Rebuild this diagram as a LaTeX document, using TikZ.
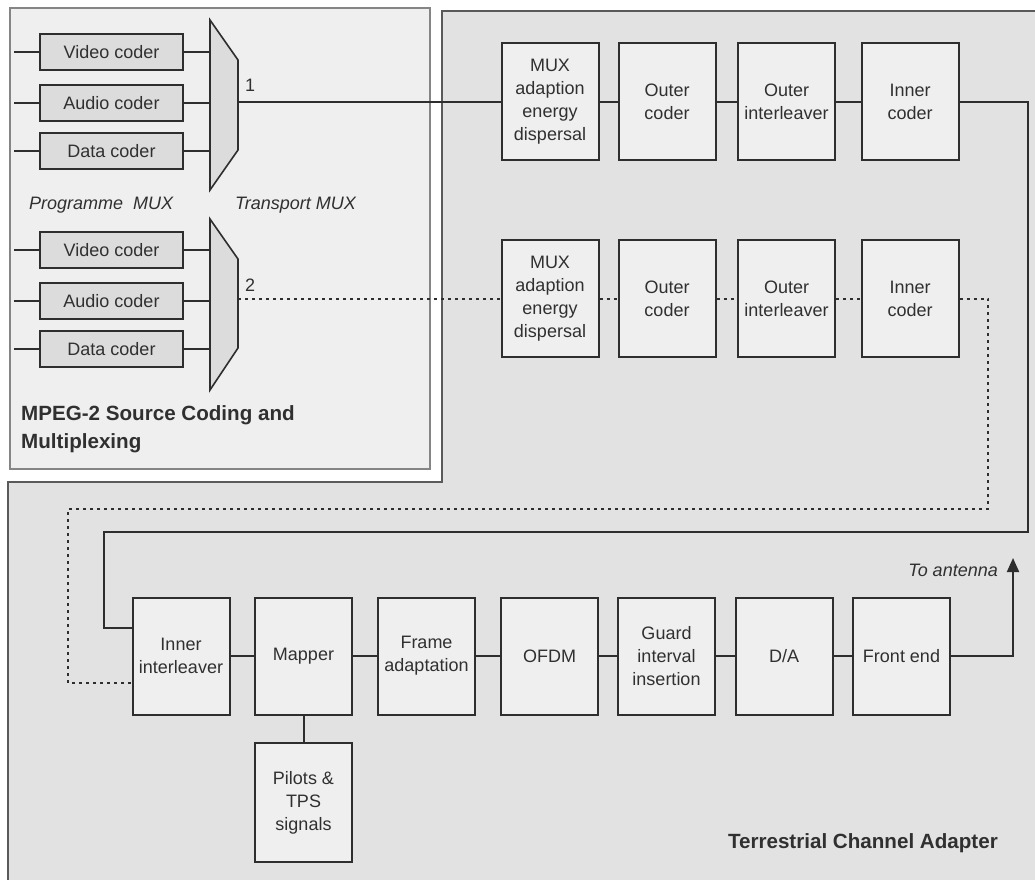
\documentclass[tikz,border=0pt]{standalone}
\usepackage{fontspec}
\setmainfont{Liberation Sans}
\usetikzlibrary{arrows.meta}
\definecolor{linec}{HTML}{2E2E2E}
\definecolor{txt}{HTML}{303030}
\definecolor{boxfill}{HTML}{EFEFEF}
\definecolor{coderfill}{HTML}{DCDCDC}
\definecolor{regionfill}{HTML}{E2E2E2}
\definecolor{srcfill}{HTML}{EFEFEF}
\definecolor{srcline}{HTML}{858585}
\definecolor{regline}{HTML}{5A5A5A}
\begin{document}
\begin{tikzpicture}[x=1pt,y=-1pt,
  blk/.style={draw=linec, fill=boxfill, line width=2pt, minimum width=97pt,
    minimum height=117pt, inner sep=0pt, align=center, text=txt,
    font=\fontsize{18}{23}\selectfont},
  coder/.style={draw=linec, fill=coderfill, line width=2pt, minimum width=143pt,
    minimum height=36pt, inner sep=0pt, text=txt, font=\fontsize{18}{22}\selectfont},
  mux/.style={draw=linec, fill=coderfill, line width=1.6pt, line join=miter},
  wire/.style={draw=linec, line width=2pt},
  dotwire/.style={wire, dash pattern=on 3pt off 4pt},
  lbl/.style={inner sep=0pt, text=txt, font=\fontsize{18}{22}\selectfont},
  ilbl/.style={lbl, font=\fontsize{18}{22}\selectfont\itshape},
  title/.style={inner sep=0pt, text=txt, align=left, font=\fontsize{20.6}{28}\selectfont\bfseries}
]
% canvas
\fill[white] (0,0) rectangle (1035,879);
\useasboundingbox (0,0) rectangle (1035,879);

% terrestrial channel adapter region
\fill[regionfill] (442,11) -- (1036,11) -- (1036,880) -- (8,880) -- (8,482) -- (442,482) -- cycle;
\draw[regline, line width=2.5pt] (1036,11) -- (442,11) -- (442,482) -- (8,482) -- (8,880);

% source coding region
\draw[srcline, fill=srcfill, line width=2.5pt] (10,8) rectangle (430,469);

% programme coders
\node[coder] (v1) at (111.5,52)  {Video coder};
\node[coder] (a1) at (111.5,103) {Audio coder};
\node[coder] (d1) at (111.5,151) {Data coder};
\node[coder] (v2) at (111.5,250) {Video coder};
\node[coder] (a2) at (111.5,301) {Audio coder};
\node[coder] (d2) at (111.5,349) {Data coder};

% transport multiplexers
\draw[mux] (210,20) -- (238,60) -- (238,150) -- (210,190) -- cycle;
\draw[mux] (210,219) -- (238,259) -- (238,348) -- (210,390) -- cycle;
\coordinate (m1out) at (238,101.5);
\coordinate (m2out) at (238,298.5);

% coder inputs and outputs
\foreach \c in {v1,a1,d1,v2,a2,d2}{
  \coordinate (\c in) at ([xshift=-25pt]\c.west);
  \draw[wire] (\c in) -- (\c.west);
  \draw[wire] (\c.east) -- ([xshift=27pt]\c.east);
}

\node[lbl, anchor=base west] (n1) at (245,91) {1};
\node[lbl, anchor=base west] (n2) at (245,291) {2};
\node[ilbl, anchor=base west] (pmux) at (29,209) {Programme\ \ MUX};
\node[ilbl, anchor=base west] (tmux) at (235,209) {Transport MUX};
\node[title, anchor=north west] (src) at (21,405) {MPEG-2 Source Coding and\\Multiplexing};

% channel coding, programme 1
\node[blk] (r1a) at (550,101.5)   {MUX\\adaption\\energy\\dispersal};
\node[blk] (r1b) at (667,101.5)   {Outer\\coder};
\node[blk] (r1c) at (786.5,101.5) {Outer\\interleaver};
\node[blk] (r1d) at (910,101.5)   {Inner\\coder};

% channel coding, programme 2
\node[blk] (r2a) at (550,298.5)   {MUX\\adaption\\energy\\dispersal};
\node[blk] (r2b) at (667,298.5)   {Outer\\coder};
\node[blk] (r2c) at (786.5,298.5) {Outer\\interleaver};
\node[blk] (r2d) at (910,298.5)   {Inner\\coder};

% modulation chain
\node[blk] (b1) at (181,656)   {Inner\\interleaver};
\node[blk] (b2) at (303.5,656) {Mapper};
\node[blk] (b3) at (426.5,656) {Frame\\adaptation};
\node[blk] (b4) at (549.5,656) {OFDM};
\node[blk] (b5) at (666.5,656) {Guard\\interval\\insertion};
\node[blk] (b6) at (784,656)   {D/A};
\node[blk] (b7) at (901.5,656) {Front end};
\node[blk, minimum height=119pt] (pil) at (303.5,802.5) {Pilots \&\\TPS\\signals};

% programme 1 path
\draw[wire] (m1out) -- (r1a);
\draw[wire] (r1a) -- (r1b);
\draw[wire] (r1b) -- (r1c);
\draw[wire] (r1c) -- (r1d);
\coordinate (s1) at (1028,101.5);
\coordinate (s2) at (1028,532);
\coordinate (s3) at (104,532);
\coordinate (s4) at (104,628);
\draw[wire] (r1d.east) -- (s1) -- (s2) -- (s3) -- (s4) -- ([yshift=28pt]b1.west);

% programme 2 path
\draw[dotwire] (m2out) -- (r2a);
\draw[dotwire] (r2a) -- (r2b);
\draw[dotwire] (r2b) -- (r2c);
\draw[dotwire] (r2c) -- (r2d);
\coordinate (p1) at (988,298.5);
\coordinate (p2) at (988,509);
\coordinate (p3) at (68,509);
\coordinate (p4) at (68,683);
\draw[dotwire] (r2d.east) -- (p1) -- (p2) -- (p3) -- (p4) -- ([yshift=-27pt]b1.west);

% modulation chain links
\draw[wire] (b1) -- (b2);
\draw[wire] (b2) -- (b3);
\draw[wire] (b3) -- (b4);
\draw[wire] (b4) -- (b5);
\draw[wire] (b5) -- (b6);
\draw[wire] (b6) -- (b7);
\draw[wire] (b2) -- (pil);

% antenna output
\coordinate (ant) at (1013,558);
\draw[wire, -{Triangle[length=14pt,width=12pt]}] (b7.east) -| (ant);
\node[ilbl, anchor=base east] (tolbl) at (998,576) {To antenna};

\node[title, anchor=base east] (tca) at (998,848) {Terrestrial Channel Adapter};
\end{tikzpicture}
\end{document}
